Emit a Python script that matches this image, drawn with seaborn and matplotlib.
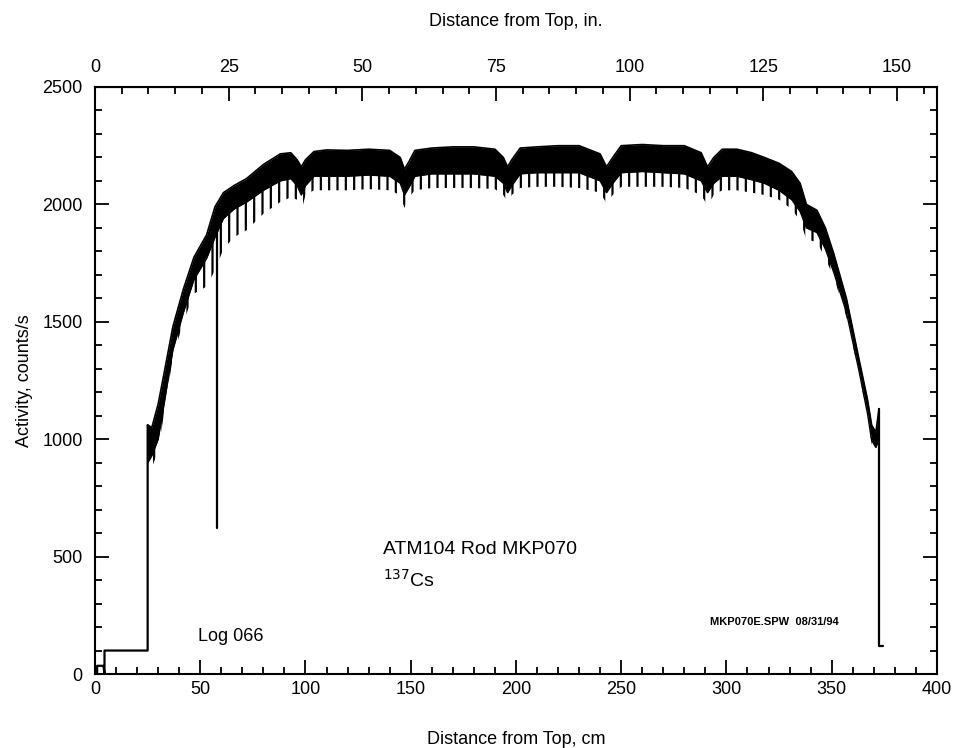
import numpy as np
import matplotlib
matplotlib.use("Agg")
import matplotlib.pyplot as plt
from matplotlib.ticker import MultipleLocator
import seaborn as sns

# Gamma scan of the rod (cm from top, counts/s)
pos_cm = [25, 27, 30, 33, 37, 42, 47, 53, 57, 61, 66, 72, 80, 88, 93, 96, 98, 100,
          104, 110, 120, 130, 140, 145, 147, 149, 152, 160, 170, 180, 190, 194, 196,
          198, 202, 210, 220, 230, 240, 243, 246, 250, 260, 270, 280, 288, 291, 294,
          298, 305, 312, 318, 325, 331, 335, 338, 343, 347, 351, 357, 363, 367, 369,
          371, 372.5]
act_top = [1060, 1050, 1150, 1290, 1480, 1640, 1775, 1870, 1990, 2050, 2080, 2110,
           2170, 2215, 2220, 2190, 2160, 2190, 2225, 2232, 2230, 2235, 2230, 2200,
           2150, 2180, 2230, 2240, 2245, 2245, 2235, 2200, 2160, 2190, 2240, 2245,
           2250, 2250, 2215, 2160, 2200, 2250, 2255, 2250, 2250, 2220, 2160, 2200,
           2235, 2235, 2220, 2200, 2175, 2140, 2090, 2000, 1975, 1900, 1790, 1600,
           1340, 1170, 1060, 1030, 1130]
act_dense = [900, 930, 1000, 1160, 1380, 1540, 1680, 1770, 1860, 1940, 1980, 2010,
             2060, 2100, 2110, 2080, 2040, 2080, 2120, 2120, 2120, 2125, 2120, 2090,
             2040, 2070, 2120, 2130, 2130, 2130, 2120, 2090, 2050, 2080, 2130, 2135,
             2135, 2135, 2100, 2050, 2090, 2135, 2140, 2135, 2130, 2100, 2050, 2090,
             2120, 2120, 2105, 2090, 2060, 2020, 1970, 1900, 1880, 1810, 1710, 1540,
             1290, 1110, 995, 965, 1000]
act_dips = [800, 880, 950, 1120, 1350, 1500, 1620, 1650, 1720, 1810, 1860, 1890,
            1960, 2010, 2030, 2020, 1970, 2040, 2060, 2060, 2060, 2065, 2060, 2040,
            1985, 2030, 2060, 2070, 2070, 2070, 2065, 2040, 2010, 2040, 2070, 2075,
            2075, 2070, 2050, 2005, 2040, 2075, 2075, 2075, 2070, 2040, 1995, 2040,
            2060, 2060, 2050, 2040, 2020, 1980, 1930, 1850, 1840, 1770, 1690, 1520,
            1280, 1100, 980, 950, 980]

# plenum / end-cap segments and the single dropout
lead_cm = [1, 1, 4, 4.5, 4.5, 25, 25]
lead_act = [0, 35, 35, 0, 100, 100, 1060]
drop_cm = [58, 58]
drop_act = [1900, 620]
tail_cm = [372.5, 372.5, 374.5]
tail_act = [1130, 120, 120]

top_ticks_in = [0, 25, 50, 75, 100, 125, 150]

sns.set_style("ticks")
plt.rcParams["font.family"] = ["Liberation Sans", "DejaVu Sans"]
plt.rcParams["hatch.linewidth"] = 1.6
for key in ["text.color", "axes.labelcolor", "xtick.color", "ytick.color"]:
    plt.rcParams[key] = "black"

fig = plt.figure(figsize=(9.57, 7.48), dpi=100)
ax = fig.add_axes([0.0993, 0.0989, 0.8797, 0.7848])

# dense band of the pellet signal, with the pellet-interface dips as a comb below it
ax.fill_between(pos_cm, act_dense, act_top, color="black", lw=0)
ax.fill_between(pos_cm, act_dips, act_dense, facecolor="none", edgecolor="black",
                hatch="||", lw=0)
sns.lineplot(x=pos_cm, y=act_top, color="black", lw=1.2, ax=ax,
             estimator=None, sort=False)
sns.lineplot(x=pos_cm, y=act_dense, color="black", lw=1.0, ax=ax,
             estimator=None, sort=False)
for xs, ys in [(lead_cm, lead_act), (drop_cm, drop_act), (tail_cm, tail_act)]:
    sns.lineplot(x=xs, y=ys, color="black", lw=1.6, ax=ax,
                 estimator=None, sort=False)

ax.set_xlim(0, 400)
ax.set_ylim(0, 2500)
ax.xaxis.set_major_locator(MultipleLocator(50))
ax.xaxis.set_minor_locator(MultipleLocator(10))
ax.yaxis.set_major_locator(MultipleLocator(500))
ax.yaxis.set_minor_locator(MultipleLocator(100))
ax.tick_params(which="both", direction="in", top=False, right=True,
               labelsize=13, width=1.3, color="black", labelcolor="black")
ax.tick_params(which="major", length=10)
ax.tick_params(which="minor", length=5)
ax.tick_params(axis="x", which="major", pad=5)
ax.tick_params(axis="y", which="major", pad=9)
for sp in ax.spines.values():
    sp.set_linewidth(1.5)
    sp.set_color("black")

ax.set_xlabel("Distance from Top, cm", fontsize=13, labelpad=24)
ax.set_ylabel("Activity, counts/s", fontsize=13)
ax.yaxis.set_label_coords(-0.074, 0.5)

top = ax.secondary_xaxis("top", functions=(lambda x: x / 2.54, lambda x: x * 2.54))
top.set_xticks(top_ticks_in)
top.xaxis.set_minor_locator(MultipleLocator(5))
top.tick_params(which="both", direction="in", labelsize=13, width=1.3,
                color="black", labelcolor="black")
top.tick_params(which="major", length=10, pad=8)
top.tick_params(which="minor", length=5)
top.set_xlabel("Distance from Top, in.", fontsize=13, labelpad=24)

ax.text(137, 530, "ATM104 Rod MKP070", fontsize=14, va="center")
ax.text(137, 400, r"$^{137}$Cs", fontsize=14, va="center")
ax.text(49, 160, "Log 066", fontsize=13, va="center")
ax.text(292, 220, "MKP070E.SPW  08/31/94", fontsize=8, va="center",
        fontweight="bold")

fig.savefig("out.png", dpi=100)
